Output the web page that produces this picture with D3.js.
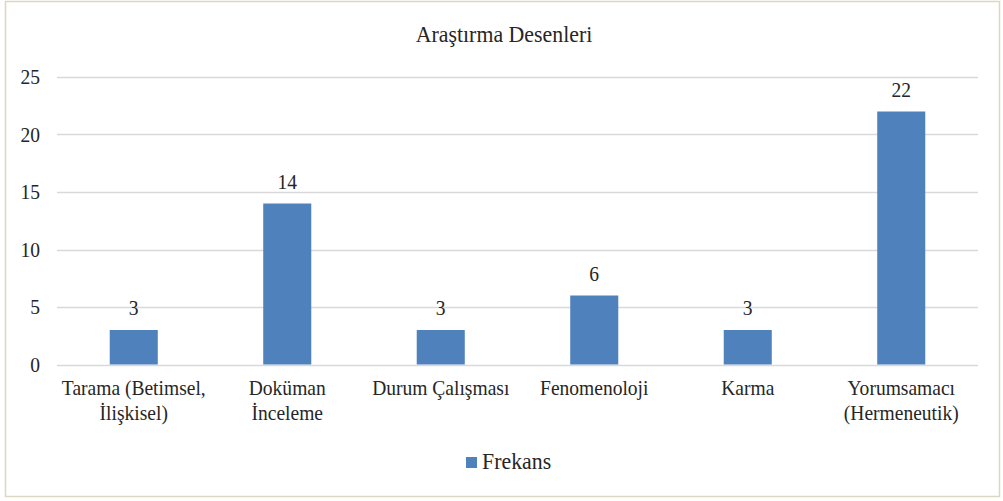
<!DOCTYPE html>
<html>
<head>
<meta charset="utf-8">
<script src="https://cdn.jsdelivr.net/npm/d3@7"></script>
<style>
  html, body { margin: 0; padding: 0; background: #fff; }
  svg { display: block; }
</style>
</head>
<body>
<svg id="chart" width="1003" height="501"></svg>
<script>
const title = "Araştırma Desenleri";
const categories = ["Tarama (Betimsel,\nİlişkisel)", "Doküman\nİnceleme", "Durum Çalışması", "Fenomenoloji", "Karma", "Yorumsamacı\n(Hermeneutik)"];
const values = [3, 14, 3, 6, 3, 22];
const yTicks = [0, 5, 10, 15, 20, 25];
const seriesName = "Frekans";

const plot = { left: 57, right: 978, top: 77, bottom: 364.5 };
const SX = 0.93; // slight horizontal compression of the glyphs in the reference
const barColor = "#4f81bd";
const FONT = "'Liberation Serif', 'Times New Roman', Tinos, serif";

const svg = d3.select("#chart");

svg.append("rect")
  .attr("x", 5.5).attr("y", 1.5)
  .attr("width", 994).attr("height", 495)
  .attr("fill", "#fff")
  .attr("stroke", "#dcd7c3").attr("stroke-width", 1.5);

const x = d3.scaleBand().domain(categories).range([plot.left, plot.right]).padding(0);
const y = d3.scaleLinear().domain([0, 25]).range([plot.bottom, plot.top]);

function txt(g, str, px, py, size, anchor) {
  return g.append("text")
    .attr("transform", `translate(${px},${py}) scale(${SX},1)`)
    .attr("text-anchor", anchor)
    .attr("font-family", FONT)
    .attr("font-size", size)
    .attr("fill", "#262626")
    .style("font-family", FONT)
    .text(str);
}

// gridlines
svg.append("g").selectAll("line").data(yTicks).join("line")
  .attr("x1", plot.left).attr("x2", plot.right)
  .attr("y1", d => Math.round(y(d)) + 0.5).attr("y2", d => Math.round(y(d)) + 0.5)
  .attr("stroke", "#d9d9d9").attr("stroke-width", 1.3);

// y tick labels
const yg = svg.append("g");
yTicks.forEach(t => txt(yg, String(t), 40, y(t) + 7, 21, "end"));

// bars
const barW = x.bandwidth() * 0.313;
svg.append("g").selectAll("rect").data(values).join("rect")
  .attr("x", (d, i) => x(categories[i]) + x.bandwidth() / 2 - barW / 2)
  .attr("y", d => y(d))
  .attr("width", barW)
  .attr("height", d => y(0) - y(d))
  .attr("fill", barColor);

// data labels
const lg = svg.append("g");
values.forEach((v, i) => txt(lg, String(v), x(categories[i]) + x.bandwidth() / 2, y(v) - 15, 21, "middle"));

// category labels
const cg = svg.append("g");
categories.forEach(c => {
  c.split("\n").forEach((line, j) => {
    txt(cg, line, x(c) + x.bandwidth() / 2, 395 + j * 24.5, 21, "middle");
  });
});

// title
txt(svg, title, 504, 41.5, 23.5, "middle");

// legend
svg.append("rect").attr("x", 466).attr("y", 457).attr("width", 11).attr("height", 11).attr("fill", barColor);
txt(svg, seriesName, 482, 469, 23.5, "start");
</script>
</body>
</html>
